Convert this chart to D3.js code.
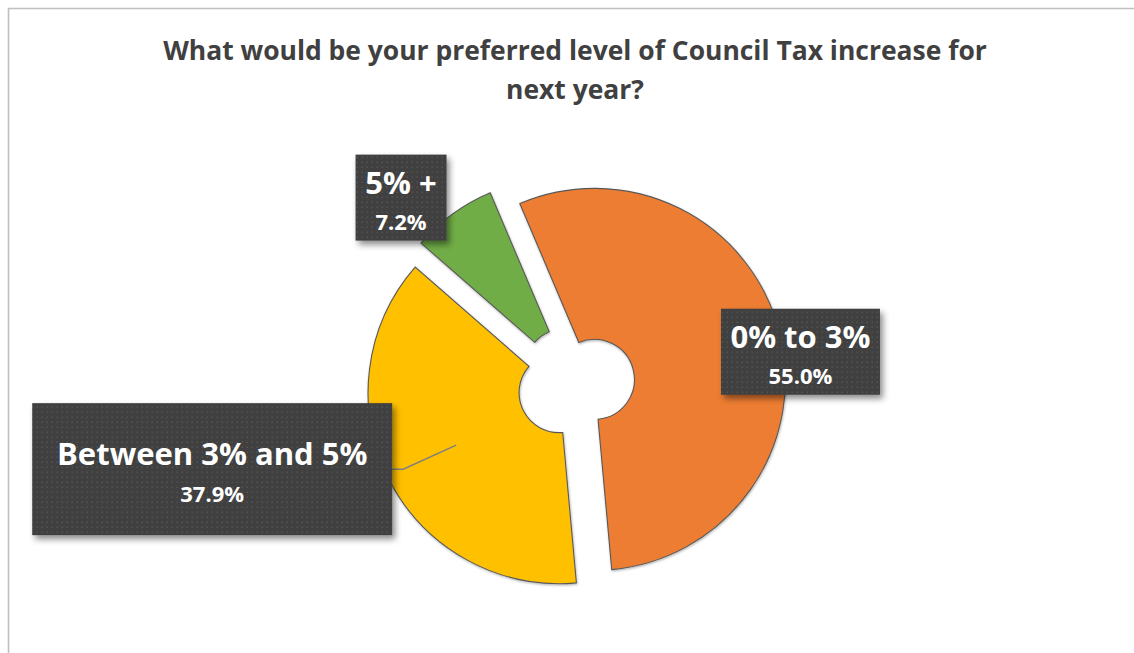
<!DOCTYPE html>
<html>
<head>
<meta charset="utf-8">
<script src="https://cdn.jsdelivr.net/npm/d3@7"></script>
<style>
  html, body { margin: 0; padding: 0; background: #ffffff; }
  svg { display: block; }
</style>
</head>
<body>
<svg id="chart" width="1134" height="653"></svg>
<script>
// Survey answers and their shares (%)
const titleLines = ["What would be your preferred level of Council Tax increase for", "next year?"];
const categories = ["0% to 3%", "Between 3% and 5%", "5% +"];
const shares = [55.0, 37.9, 7.2];
const sliceColors = ["#ED7D31", "#FFC000", "#70AD47"];

// Layout
const W = 1134, H = 653;
const cx = 576, cy = 384;
const outerR = 191, innerR = 40, explode = 19;
const firstSliceDeg = -23;
const labelBoxes = [            // box size and offset from the slice centroid
  { w: 159, h: 86,  dx: 94,   dy: 0.5,  leader: false },
  { w: 360, h: 132, dx: -244, dy: 24,   leader: true  },
  { w: 91,  h: 86,  dx: -96,  dy: -77.5, leader: false }
];

const svg = d3.select("#chart");
const defs = svg.append("defs");

// dotted dark fill for the data labels
const pat = defs.append("pattern")
  .attr("id", "dots").attr("patternUnits", "userSpaceOnUse")
  .attr("width", 5).attr("height", 5);
pat.append("rect").attr("width", 5).attr("height", 5).attr("fill", "#3f3f3f");
pat.append("rect").attr("x", 1.5).attr("y", 1.5).attr("width", 1.6).attr("height", 1.6).attr("fill", "#525252");

const boxShadow = defs.append("filter").attr("id", "boxShadow")
  .attr("x", "-20%").attr("y", "-20%").attr("width", "140%").attr("height", "150%");
boxShadow.append("feDropShadow").attr("dx", 3).attr("dy", 4).attr("stdDeviation", 3)
  .attr("flood-color", "#000").attr("flood-opacity", 0.45);

const sliceShadow = defs.append("filter").attr("id", "sliceShadow")
  .attr("x", "-10%").attr("y", "-10%").attr("width", "120%").attr("height", "120%");
sliceShadow.append("feDropShadow").attr("dx", 0.6).attr("dy", 1.2).attr("stdDeviation", 1)
  .attr("flood-color", "#000").attr("flood-opacity", 0.3);

// chart frame
svg.append("line").attr("x1", 8).attr("y1", 8.5).attr("x2", W).attr("y2", 8.5)
  .attr("stroke", "#bfbfbf").attr("stroke-width", 1.6);
svg.append("line").attr("x1", 8.5).attr("y1", 8).attr("x2", 8.5).attr("y2", H)
  .attr("stroke", "#bfbfbf").attr("stroke-width", 1.6);

// title
const title = svg.append("g").attr("class", "title");
title.selectAll("text").data(titleLines).join("text")
  .attr("x", 575).attr("y", (d, i) => 60 + i * 39)
  .attr("text-anchor", "middle")
  .attr("font-family", "'Open Sans', sans-serif")
  .attr("font-weight", 700)
  .attr("font-size", 27)
  .attr("fill", "#404040")
  .text(d => d);

// narrow the title to the width of the original layout
{
  const first = title.select("text").node();
  const natural = first.getComputedTextLength();
  const k = 824 / natural;
  title.selectAll("text").attr("transform", `translate(575,0) scale(${k},1) translate(-575,0)`);
}

// doughnut
const data = categories.map((c, i) => ({ cat: c, value: shares[i], color: sliceColors[i] }));
const a0 = firstSliceDeg * Math.PI / 180;
const pie = d3.pie().sort(null).value(d => d.value).startAngle(a0).endAngle(a0 + 2 * Math.PI);
const arc = d3.arc().innerRadius(innerR).outerRadius(outerR);
const arcs = pie(data);

const shift = d => {
  const m = (d.startAngle + d.endAngle) / 2;
  return [Math.sin(m) * explode, -Math.cos(m) * explode];
};

const pieG = svg.append("g").attr("transform", `translate(${cx},${cy})`);
pieG.selectAll("path").data(arcs).join("path")
  .attr("transform", d => { const s = shift(d); return `translate(${s[0]},${s[1]})`; })
  .attr("d", arc)
  .attr("fill", d => d.data.color)
  .attr("stroke", "#595959")
  .attr("stroke-width", 1.1)
  .attr("filter", "url(#sliceShadow)");

// data labels
const centroidOf = d => {
  const s = shift(d), c = arc.centroid(d);
  return [cx + s[0] + c[0], cy + s[1] + c[1]];
};

const labels = svg.append("g").attr("class", "labels");
arcs.forEach((d, i) => {
  const box = labelBoxes[i];
  const c = centroidOf(d);
  const bx = c[0] + box.dx, by = c[1] + box.dy;
  if (box.leader) {
    const edgeX = bx + (box.dx < 0 ? box.w / 2 : -box.w / 2);
    const elbowX = edgeX + (box.dx < 0 ? 11 : -11);
    labels.append("polyline")
      .attr("points", `${edgeX},${by} ${elbowX},${by} ${c[0]},${c[1]}`)
      .attr("fill", "none").attr("stroke", "#7f7f7f").attr("stroke-width", 1.5);
  }
  const g = labels.append("g");
  g.append("rect")
    .attr("x", bx - box.w / 2).attr("y", by - box.h / 2)
    .attr("width", box.w).attr("height", box.h)
    .attr("fill", "url(#dots)")
    .attr("filter", "url(#boxShadow)");
  g.append("text")
    .attr("x", bx).attr("y", by - 4)
    .attr("text-anchor", "middle")
    .attr("font-family", "'Open Sans', sans-serif")
    .attr("font-weight", 700).attr("font-size", 31)
    .attr("fill", "#ffffff")
    .text(d.data.cat);
  g.append("text")
    .attr("x", bx).attr("y", by + 32.5)
    .attr("text-anchor", "middle")
    .attr("font-family", "'Open Sans', sans-serif")
    .attr("font-weight", 700).attr("font-size", 22)
    .attr("fill", "#ffffff")
    .text(d3.format(".1f")(d.data.value) + "%");
});
</script>
</body>
</html>
